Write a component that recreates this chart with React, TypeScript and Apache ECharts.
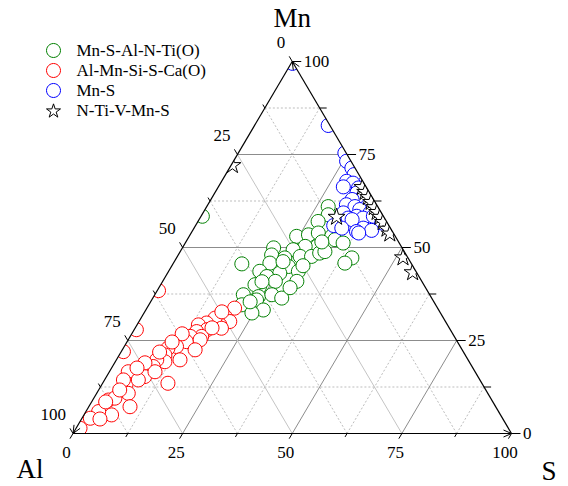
import React, { useEffect, useRef } from "react";
import * as echarts from "echarts";

const FONT = '"Liberation Serif", "Times New Roman", serif';

// Inclusion compositions (at.%), stored as [Mn, S]; Al makes up the rest to 100.
const mnSAlNTiO: [number, number][] = [
  [61.0, 27.7], [58.8, 28.8], [57.0, 27.4], [58.4, 0.3], [53.0, 24.5], [53.4, 27.0],
  [53.9, 29.0], [53.0, 32.5], [52.1, 33.7], [51.2, 36.0], [50.3, 30.5], [50.3, 27.8],
  [49.4, 25.5], [47.6, 28.0], [47.6, 30.6], [48.5, 32.0], [48.9, 33.0], [49.9, 20.8],
  [48.0, 21.3], [45.8, 22.0], [47.2, 24.7], [44.9, 26.7], [43.1, 25.6], [43.6, 29.6],
  [43.6, 20.8], [45.6, 15.7], [42.2, 23.1], [40.9, 25.7], [40.9, 30.6], [39.5, 22.8],
  [47.2, 40.0], [45.8, 39.1], [40.0, 21.5], [37.3, 20.2], [36.8, 23.9], [37.3, 26.7],
  [36.4, 29.4], [35.9, 23.9], [34.6, 21.2], [33.2, 26.8], [32.4, 24.6], [40.8, 22.7],
  [35.4, 22.7], [39.2, 29.9], [46.2, 24.8], [45.1, 29.9], [51.5, 31.0],
];

const alMnSiSCaO: [number, number][] = [
  [38.4, 0.3], [33.7, 20.0], [31.4, 19.0], [30.1, 20.7], [29.2, 18.9], [31.0, 16.9],
  [29.7, 15.6], [29.2, 14.0], [27.9, 16.6], [27.4, 14.5], [26.1, 16.3], [28.3, 19.7],
  [26.1, 13.7], [24.7, 13.5], [25.2, 16.4], [22.5, 16.6], [23.4, 11.9], [22.9, 10.2],
  [21.1, 10.4], [19.8, 14.5], [19.3, 11.3], [19.8, 9.2], [18.0, 9.3], [15.3, 8.7],
  [16.6, 10.4], [16.6, 4.3], [13.5, 5.4], [14.4, 7.7], [13.5, 14.9], [10.8, 7.2],
  [7.2, 9.4], [9.0, 3.6], [9.5, 4.8], [6.3, 3.7], [5.0, 6.3], [5.9, 2.9], [4.1, 1.9],
  [1.4, 0.9], [27.9, 0.5], [22.0, 0.5], [14.4, 4.3], [28.4, 17.5], [26.8, 11.5],
  [24.6, 10.3], [21.9, 8.8], [19.0, 6.9], [17.6, 5.8], [11.7, 4.8], [8.5, 3.2],
  [3.9, 4.2], [32.7, 17.6],
];

const mnS: [number, number][] = [
  [99.5, 0.3], [82.8, 16.8], [75.4, 24.3], [73.2, 25.8], [71.4, 27.9], [69.6, 29.3],
  [67.8, 28.5], [67.3, 30.2], [66.3, 28.5], [66.0, 32.1], [64.7, 32.4], [63.7, 34.3],
  [62.9, 32.2], [61.5, 31.6], [61.0, 33.8], [61.0, 36.5], [60.2, 35.3], [59.3, 38.1],
  [59.3, 32.0], [58.4, 35.5], [57.9, 33.8], [57.9, 37.2], [58.4, 39.3], [57.5, 34.9],
  [56.6, 42.1], [55.9, 31.5], [55.2, 33.7], [55.2, 38.6], [54.6, 40.8], [54.3, 37.5],
  [53.9, 38.2],
];

const nTiVMnS: [number, number][] = [
  [72.3, 0.2], [58.4, 30.9], [66.4, 32.8], [65.1, 34.1], [63.7, 35.5], [62.4, 36.8],
  [61.0, 38.2], [59.7, 39.5], [58.4, 40.8], [57.0, 42.2], [55.2, 44.0], [53.9, 45.3],
  [47.5, 51.5], [43.5, 55.7],
];

const seriesNames = ["Mn-S-Al-N-Ti(O)", "Al-Mn-Si-S-Ca(O)", "Mn-S", "N-Ti-V-Mn-S"];
const seriesColors = ["#008000", "#ff0000", "#0000ff", "#000000"];

const majorTicks = [0, 25, 50, 75, 100];
const minorTicks = [12.5, 37.5, 62.5, 87.5];
const axisTitles = { top: "Mn", left: "Al", right: "S" };

const STAR =
  "path://M50,0L61.2,34.5L97.6,34.5L68.2,55.9L79.4,90.5L50,69.1L20.6,90.5L31.8,55.9L2.4,34.5L38.8,34.5Z";

// ternary (Mn, S) -> cartesian position inside the triangle
const cart = (mn: number, s: number): [number, number] => [s + mn / 2, mn];

// end points of the iso-lines of each component
const mnLine = (t: number) => [cart(t, 0), cart(t, 100 - t)];
const sLine = (t: number) => [cart(0, t), cart(100 - t, t)];
const alLine = (t: number) => [cart(100 - t, 0), cart(0, 100 - t)];

type P = number[];
const unit = (p: P, q: P) => {
  const dx = q[0] - p[0];
  const dy = q[1] - p[1];
  const l = Math.hypot(dx, dy);
  return [dx / l, dy / l];
};
const add = (p: P, d: P, k: number) => [p[0] + d[0] * k, p[1] + d[1] * k];

function gridRender(_params: any, api: any) {
  const children: any[] = [];
  const seg = (pq: P[], style: any) => {
    const a = api.coord(pq[0]);
    const b = api.coord(pq[1]);
    children.push({ type: "line", shape: { x1: a[0], y1: a[1], x2: b[0], y2: b[1] }, style });
  };
  const minor = { stroke: "#bdbdbd", lineWidth: 1, lineDash: [2, 2], fill: null };
  minorTicks.forEach((t) => {
    seg(mnLine(t), minor);
    seg(sLine(t), minor);
    seg(alLine(t), minor);
  });
  majorTicks
    .filter((t) => t > 0 && t < 100)
    .forEach((t) => {
      seg(alLine(t), { stroke: "#c4c4c4", lineWidth: 1, fill: null });
      seg(sLine(t), { stroke: "#8c8c8c", lineWidth: 1, fill: null });
      seg(mnLine(t), { stroke: "#8c8c8c", lineWidth: 1, fill: null });
    });
  return { type: "group", children, silent: true };
}

function frameRender(_params: any, api: any) {
  const A = api.coord([0, 0]); // Al corner
  const B = api.coord([100, 0]); // S corner
  const C = api.coord([50, 100]); // Mn corner
  const children: any[] = [];

  // white bands just outside each side trim markers that spill over the edges
  const band = (p: P, q: P, inside: P) => {
    const d = unit(p, q);
    let n = [-d[1], d[0]];
    const m = [(p[0] + q[0]) / 2, (p[1] + q[1]) / 2];
    if ((inside[0] - m[0]) * n[0] + (inside[1] - m[1]) * n[1] > 0) n = [-n[0], -n[1]];
    const w = 12;
    const p0 = add(p, d, -w);
    const q0 = add(q, d, w);
    children.push({
      type: "polygon",
      shape: { points: [p0, q0, add(q0, n, w), add(p0, n, w)] },
      style: { fill: "#ffffff", stroke: null },
    });
  };
  band(A, B, C);
  band(B, C, A);
  band(C, A, B);

  const line = (a: P, b: P, style: any) =>
    children.push({ type: "line", shape: { x1: a[0], y1: a[1], x2: b[0], y2: b[1] }, style });
  const edge = { stroke: "#000", lineWidth: 1.2, fill: null };
  line(A, B, edge);
  line(B, C, edge);
  line(C, A, edge);

  // outward tick directions follow the iso-lines of each axis
  const dirLeft = unit(B, C);
  const dirBottom = unit(C, A);
  const dirRight = unit(A, B);
  const tick = { stroke: "#000", lineWidth: 1, fill: null };

  const text = (x: number, y: number, s: string, size: number, align: string) =>
    children.push({
      type: "text",
      x,
      y,
      style: {
        text: s,
        fill: "#000",
        fontSize: size,
        fontFamily: FONT,
        align,
        verticalAlign: "middle",
      },
    });

  const drawTicks = (ticks: number[], len: number, labels: boolean) => {
    ticks.forEach((t) => {
      const pl = api.coord(cart(100 - t, 0));
      line(pl, add(pl, dirLeft, len), tick);
      const pb = api.coord(cart(0, t));
      line(pb, add(pb, dirBottom, len), tick);
      const pr = api.coord(cart(t, 100 - t));
      line(pr, add(pr, dirRight, len + 3), tick);
      if (labels) {
        text(pl[0] - 7, pl[1] - 19.5, String(t), 17, "right");
        text(pb[0] - 6.5, pb[1] + 18.5, String(t), 17, "center");
        text(pr[0] + 11.5, pr[1], String(t), 17, "left");
      }
    });
  };
  drawTicks(minorTicks, 4, false);
  drawTicks(majorTicks, 6, true);

  // open arrow heads at the end of each axis
  const arrow = (tip: P, from: P) => {
    const d = unit(from, tip);
    const n = [-d[1], d[0]];
    const back = add(tip, d, -8);
    children.push({
      type: "polyline",
      shape: { points: [add(back, n, 3.5), tip, add(back, n, -3.5)] },
      style: { stroke: "#000", lineWidth: 1, fill: null },
    });
  };
  arrow(B, A);
  arrow(C, B);
  arrow(A, C);

  text(C[0], C[1] - 43.5, axisTitles.top, 27, "center");
  text(A[0] - 43, A[1] + 35.5, axisTitles.left, 27, "center");
  text(B[0] + 37.5, B[1] + 37.5, axisTitles.right, 27, "center");

  return { type: "group", children, silent: true };
}

export default function App() {
  const ref = useRef<HTMLDivElement>(null);

  useEffect(() => {
    const chart = echarts.init(ref.current!, null, { renderer: "svg" });
    const groups = [mnSAlNTiO, alMnSiSCaO, mnS, nTiVMnS];

    const scatter = groups.map((pts, i) => ({
      type: "scatter",
      name: seriesNames[i],
      data: pts.map(([mn, s]) => cart(mn, s)),
      symbol: i === 3 ? STAR : "circle",
      symbolSize: i === 3 ? 17 : 14,
      symbolKeepAspect: true,
      itemStyle: { color: "#ffffff", borderColor: seriesColors[i], borderWidth: 1, opacity: 1 },
      emphasis: { disabled: true },
      clip: false,
      z: 2 + i * 0.1,
    }));

    chart.setOption({
      animation: false,
      backgroundColor: "#ffffff",
      grid: { left: 73, top: 61.5, width: 438.5, height: 372, containLabel: false, outerBoundsMode: "none" },
      xAxis: { type: "value", min: 0, max: 100, show: false },
      yAxis: { type: "value", min: 0, max: 100, show: false },
      legend: {
        orient: "vertical",
        left: 46,
        top: 42,
        padding: 0,
        itemWidth: 14,
        itemHeight: 14,
        itemGap: 3,
        selectedMode: false,
        data: seriesNames.map((name, i) => ({ name, icon: i === 3 ? STAR : "circle" })),
        itemStyle: { borderWidth: 1 },
        textStyle: {
          fontFamily: FONT,
          fontSize: 17,
          color: "#000",
          lineHeight: 17,
          padding: [0, 0, 0, 11],
        },
      },
      series: [
        {
          type: "custom",
          name: "grid",
          coordinateSystem: "cartesian2d",
          data: [[0, 0]],
          renderItem: gridRender,
          clip: false,
          silent: true,
          z: 1,
        },
        ...scatter,
        {
          type: "custom",
          name: "frame",
          coordinateSystem: "cartesian2d",
          data: [[0, 0]],
          renderItem: frameRender,
          clip: false,
          silent: true,
          z: 10,
        },
      ],
    });

    return () => chart.dispose();
  }, []);

  return (
    <div
      ref={ref}
      style={{ position: "fixed", left: 0, top: 0, width: 568, height: 486, background: "#fff" }}
    />
  );
}
